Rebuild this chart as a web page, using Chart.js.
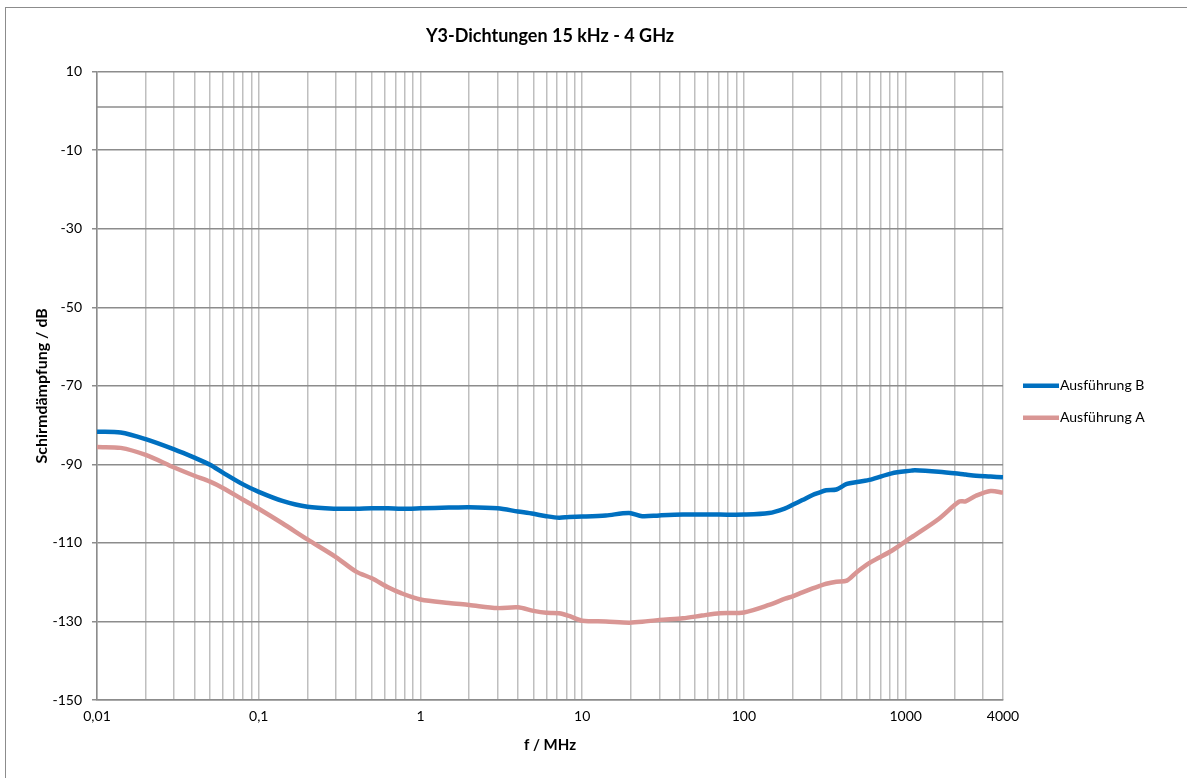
<!DOCTYPE html>
<html>
<head>
<meta charset="utf-8">
<script src="https://cdn.jsdelivr.net/npm/chart.js@4/dist/chart.umd.min.js"></script>
<style>
html, body { margin: 0; padding: 0; background: #fff; overflow: hidden; }
#frame { position: absolute; left: 5px; top: 7px; width: 1400px; height: 1000px; border: 1px solid #8c8c8c; }
#wrap { position: absolute; left: 0; top: 0; width: 1187px; height: 778px; }
</style>
</head>
<body>
<div id="frame"></div>
<div id="wrap"><canvas id="chart"></canvas></div>
<script>
// frequency in MHz
const freqMHz = [0.01, 0.014, 0.02, 0.03, 0.04, 0.05, 0.06, 0.08, 0.1, 0.14, 0.2, 0.3, 0.4, 0.5, 0.63, 0.76,
	1, 1.5, 2, 3, 4, 5, 6, 7.2, 8.3, 10, 14, 19.5, 23.5, 30, 42, 55, 71, 100, 143, 180, 200, 230, 266, 292,
	323, 373, 433, 500, 609, 820, 1085, 1142, 1600, 2140, 2350, 2720, 3350, 4000];

const daempfungB = [-81.7, -81.9, -83.6, -86.2, -88.3, -90.1, -92.1, -95.1, -97.0, -99.3, -100.8, -101.3, -101.3, -101.2, -101.2, -101.3,
	-101.2, -101.0, -100.9, -101.2, -102.0, -102.6, -103.2, -103.6, -103.4, -103.3, -103.0, -102.4, -103.2, -103.0, -102.8, -102.8, -102.8, -102.8, -102.4, -101.2, -100.3, -99.1, -97.8, -97.2,
	-96.6, -96.4, -95.0, -94.5, -93.9, -92.3, -91.6, -91.5, -91.9, -92.4, -92.6, -92.9, -93.1, -93.3];

const daempfungA = [-85.6, -85.8, -87.6, -90.8, -92.9, -94.4, -96.0, -99.0, -101.3, -105.0, -109.1, -113.6, -117.3, -119.0, -121.3, -122.8,
	-124.4, -125.3, -125.8, -126.6, -126.4, -127.3, -127.8, -127.9, -128.6, -129.8, -130.0, -130.3, -130.1, -129.6, -129.2, -128.5, -127.9, -127.7, -125.8, -124.2, -123.6, -122.6, -121.6, -121.0,
	-120.4, -119.9, -119.6, -117.4, -114.9, -112.0, -108.6, -108.0, -103.9, -99.5, -99.4, -98.0, -96.8, -97.2];

const seriesNames = ['Ausführung B', 'Ausführung A'];
const seriesColors = ['#0070c0', '#d99694'];

const xLabelled = [0.01, 0.1, 1, 10, 100, 1000, 4000];
const xDecades = [0.01, 0.1, 1, 10, 100, 1000];
const xSteps = [1, 2, 3, 4, 5, 6, 7, 8, 9];
const xEnd = 4000;
const refLevel = 1;   // extra horizontal line just below the top

const FONT = 'Lato, "Open Sans", sans-serif';

function toPoints(vals) {
	return freqMHz.map((f, i) => ({ x: f, y: vals[i] }));
}

// tick positions for the log grid
var xGrid = [];
xDecades.forEach(d => {
	xSteps.forEach(m => {
		var v = Number((m * d).toPrecision(6));
		if (v <= xEnd) xGrid.push(v);
	});
});
if (!xGrid.includes(xEnd)) xGrid.push(xEnd);

const sideLegend = {
	id: 'sideLegend',
	afterDraw(chart) {
		const ctx = chart.ctx;
		const area = chart.chartArea;
		const mid = (area.top + area.bottom) / 2;
		ctx.save();
		chart.data.datasets.forEach((ds, i) => {
			var y = mid + i * 32;
			ctx.strokeStyle = ds.borderColor;
			ctx.lineWidth = 4.5;
			ctx.beginPath();
			ctx.moveTo(area.right + 20, y);
			ctx.lineTo(area.right + 56, y);
			ctx.stroke();
			ctx.fillStyle = '#000';
			ctx.font = '14px ' + FONT;
			ctx.textBaseline = 'middle';
			ctx.textAlign = 'left';
			ctx.fillText(ds.label, area.right + 57, y);
		});
		ctx.restore();
	}
};

const refLine = {
	id: 'refLine',
	beforeDatasetsDraw(chart) {
		const ctx = chart.ctx;
		const area = chart.chartArea;
		const y = chart.scales.y.getPixelForValue(refLevel);
		ctx.save();
		ctx.strokeStyle = '#8c8c8c';
		ctx.lineWidth = 1.5;
		ctx.beginPath();
		ctx.moveTo(area.left, y);
		ctx.lineTo(area.right, y);
		ctx.stroke();
		ctx.restore();
	}
};

chartSchirm = new Chart(document.getElementById('chart'), {
	type: 'line',
	data: {
		datasets: [{
			label: seriesNames[0],
			data: toPoints(daempfungB),
			borderColor: seriesColors[0],
			backgroundColor: seriesColors[0],
			borderWidth: 4.5,
			pointRadius: 0,
			tension: 0.3
		}, {
			label: seriesNames[1],
			data: toPoints(daempfungA),
			borderColor: seriesColors[1],
			backgroundColor: seriesColors[1],
			borderWidth: 4.5,
			pointRadius: 0,
			tension: 0.3
		}]
	},
	options: {
		responsive: true,
		maintainAspectRatio: false,
		animation: false,
		layout: { padding: { left: 0, right: 184, top: 0, bottom: 0 } },
		plugins: {
			legend: { display: false },
			tooltip: { enabled: false },
			title: {
				display: true,
				fullSize: false,
				text: 'Y3-Dichtungen 15 kHz - 4 GHz',
				color: '#000',
				font: { family: FONT, size: 18, weight: 'bold' },
				padding: { top: 25, bottom: 25 }
			}
		},
		scales: {
			x: {
				type: 'logarithmic',
				min: 0.01,
				max: xEnd,
				afterFit: s => { s.height = 78; },
				afterBuildTicks: s => { s.ticks = xGrid.map(v => ({ value: v })); },
				grid: { color: '#bfbfbf', lineWidth: 1.5, drawTicks: false },
				border: { color: '#8c8c8c', width: 1.5 },
				ticks: {
					autoSkip: false,
					maxRotation: 0,
					padding: 8,
					color: '#000',
					font: { family: FONT, size: 14 },
					callback: function(value) {
						var hit = xLabelled.find(v => Math.abs(v - value) < v * 1e-6);
						return hit === undefined ? '' : String(hit).replace('.', ',');
					}
				},
				title: {
					display: true,
					text: 'f / MHz',
					color: '#000',
					font: { family: FONT, size: 15, weight: 'bold' },
					padding: { top: 0, bottom: 24 }
				}
			},
			y: {
				min: -150,
				max: 10,
				afterFit: s => { s.width = 97; },
				grid: { color: '#8c8c8c', lineWidth: 1.5, tickLength: 5 },
				border: { color: '#8c8c8c', width: 1.5 },
				ticks: {
					stepSize: 20,
					padding: 10,
					color: '#000',
					font: { family: FONT, size: 14 }
				},
				title: {
					display: true,
					text: 'Schirmdämpfung / dB',
					color: '#000',
					font: { family: FONT, size: 16, weight: 'bold' },
					padding: { top: 32, bottom: 0 }
				}
			}
		}
	},
	plugins: [refLine, sideLegend]
});
</script>
</body>
</html>
